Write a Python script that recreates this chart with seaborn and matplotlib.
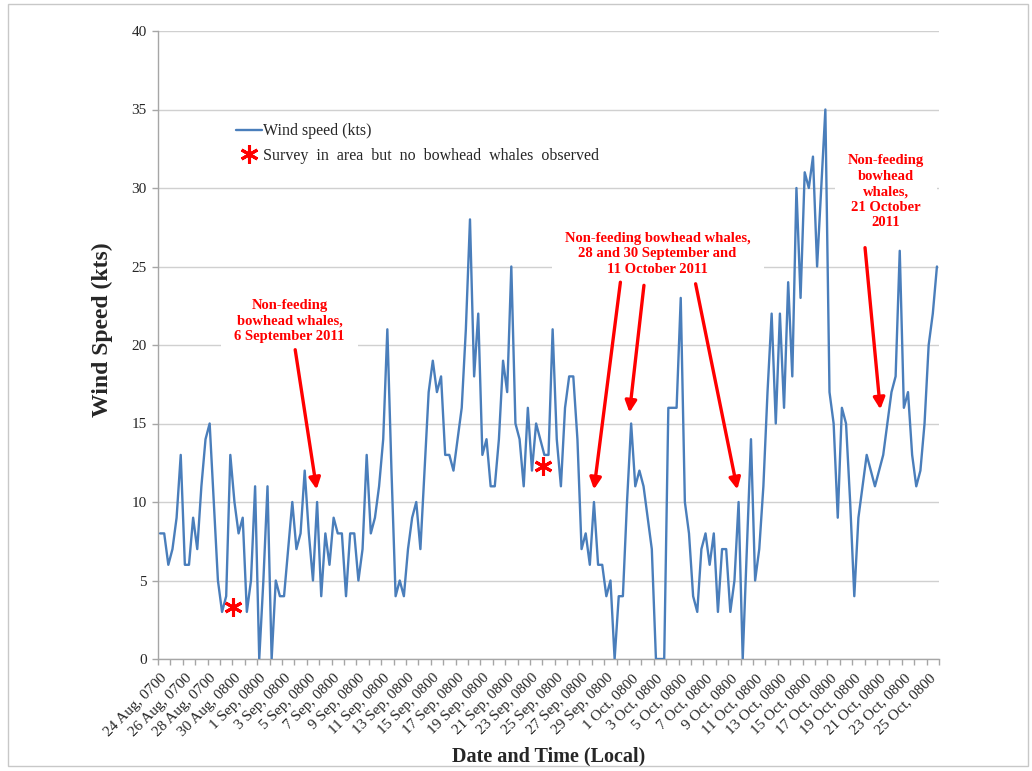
import numpy as np
import pandas as pd
import matplotlib
matplotlib.use("Agg")
import matplotlib.pyplot as plt
import seaborn as sns
from matplotlib.lines import Line2D
from matplotlib.patches import Rectangle

# wind speed (kts), one reading every 8 h from 24 Aug 0700 to 25 Oct 2011
wind_kts = [
    8, 8, 6, 7, 9, 13, 6, 6, 9, 7, 11, 14, 15, 10, 5, 3, 4, 13, 10, 8,
    9, 3, 5, 11, 0, 5, 11, 0, 5, 4, 4,
    7, 10, 7, 8, 12, 8, 5, 10, 4, 8, 6, 9, 8, 8, 4, 8, 8, 5, 7, 13,
    8, 9, 11, 14, 21, 12, 4, 5, 4, 7, 9, 10,
    7, 12, 17, 19, 17, 18, 13, 13, 12, 14, 16, 21, 28, 18, 22, 13, 14, 11,
    11, 14, 19, 17, 25, 15, 14, 11, 16, 12, 15, 14, 13, 13,
    21, 14, 11, 16, 18, 18, 14, 7, 8, 6, 10, 6, 6, 4, 5, 0, 4, 4, 10, 15,
    11, 12, 11, 9, 7, 0, 0, 0, 16, 16, 16,
    23, 10, 8, 4, 3, 7, 8, 6, 8, 3, 7, 7, 3, 5, 10, 0, 7, 14, 5, 7, 11,
    17, 22, 15, 22, 16, 24, 18, 30, 23,
    31, 30, 32, 25, 30, 35, 17, 15, 9, 16, 15, 10, 4, 9, 11, 13, 12, 11,
    12, 13, 15, 17, 18, 26, 16, 17, 13, 11, 12, 15, 20, 22, 25,
]

# one label every 6 readings (2 days)
tick_labels = [
    "24 Aug, 0700", "26 Aug, 0700", "28 Aug, 0700", "30 Aug, 0800",
    "1 Sep, 0800", "3 Sep, 0800", "5 Sep, 0800", "7 Sep, 0800", "9 Sep, 0800",
    "11 Sep, 0800", "13 Sep, 0800", "15 Sep, 0800", "17 Sep, 0800",
    "19 Sep, 0800", "21 Sep, 0800", "23 Sep, 0800", "25 Sep, 0800",
    "27 Sep, 0800", "29 Sep, 0800",
    "1 Oct, 0800", "3 Oct, 0800", "5 Oct, 0800", "7 Oct, 0800", "9 Oct, 0800",
    "11 Oct, 0800", "13 Oct, 0800", "15 Oct, 0800", "17 Oct, 0800",
    "19 Oct, 0800", "21 Oct, 0800", "23 Oct, 0800", "25 Oct, 0800",
]

# surveys with no whales seen (reading index, kts)
survey_obs = [17.6, 92.7]
survey_kts = [3.3, 12.3]

df = pd.DataFrame({"obs": np.arange(len(wind_kts)), "wind": wind_kts})

sns.set_theme(style="white")
plt.rcParams['font.family'] = ['Liberation Serif', 'DejaVu Serif']

fig = plt.figure(figsize=(10.32, 7.71), dpi=100)
ax = fig.add_axes([158 / 1032, 1 - 659 / 771, 781 / 1032, 628 / 771])

sns.lineplot(data=df, x="obs", y="wind", ax=ax, color="#4a7ebb",
             linewidth=1.7, zorder=3)
ax.plot(survey_obs, survey_kts, linestyle="none", marker=(6, 2, 0),
        markersize=13, mew=2.2, color="red", zorder=4)

# axes
ax.set_xlim(-0.5, len(wind_kts) - 0.5)
ax.set_ylim(0, 40)
ax.set_yticks(np.arange(0, 41, 5))
ax.set_xticks(np.arange(0, len(wind_kts), 6))
ax.set_xticklabels(tick_labels, rotation=45, ha="right", va="top",
                   rotation_mode="anchor", fontsize=11)
ax.set_xticks(np.arange(-0.5, len(wind_kts), 3), minor=True)
ax.tick_params(axis="x", which="major", length=0, pad=9)
ax.tick_params(axis="x", which="minor", length=4, width=1, color="#a6a6a6",
               direction="out", bottom=True)
ax.tick_params(axis="y", length=4, width=1, color="#a6a6a6", labelsize=11,
               left=True, pad=4)
ax.yaxis.grid(True, color="#d0d0d0", linewidth=1)
ax.xaxis.grid(False)
for s in ["top", "right"]:
    ax.spines[s].set_visible(False)
for s in ["left", "bottom"]:
    ax.spines[s].set_color("#a6a6a6")
    ax.spines[s].set_linewidth(1)

ax.set_xlabel("Date and Time (Local)", fontsize=14.5, fontweight="bold")
ax.xaxis.set_label_coords(0.5, -0.14)
ax.set_ylabel("Wind Speed (kts)", fontsize=17, fontweight="bold")
ax.yaxis.set_label_coords(-0.058, 0.525)

# legend
handles = [
    Line2D([], [], color="#4a7ebb", linewidth=1.7),
    Line2D([], [], linestyle="none", marker=(6, 2, 0), markersize=13,
           mew=2.2, color="red"),
]
ax.legend(handles, ["Wind speed (kts)",
                    "Survey  in  area  but  no  bowhead  whales  observed"],
          loc="upper left", bbox_to_anchor=(0.09, 0.866), frameon=False,
          fontsize=11.5, handlelength=1.6, handletextpad=0.1,
          labelspacing=0.55, borderpad=0)

# annotations
red = "#ff0000"
box = dict(boxstyle="square,pad=0.9", facecolor="white", edgecolor="none")
txt = dict(color=red, fontsize=10.5, fontweight="bold", ha="center",
           va="center", linespacing=1.25, zorder=5, bbox=box)
arrow = dict(arrowstyle="-|>", color=red, lw=2.4, mutation_scale=17,
             shrinkA=0, shrinkB=0)

ax.text(31.3, 21.5, "Non-feeding\nbowhead whales,\n6 September 2011", **txt)
ax.annotate("", xy=(37.9, 10.8), xytext=(32.7, 19.7), arrowprops=arrow,
            zorder=5)

ax.text(120.4, 25.8, "Non-feeding bowhead whales,\n28 and 30 September and\n"
        "11 October 2011", **txt)
ax.annotate("", xy=(105.0, 10.8), xytext=(111.4, 24.0), arrowprops=arrow,
            zorder=5)
ax.annotate("", xy=(113.6, 15.7), xytext=(117.1, 23.8), arrowprops=arrow,
            zorder=5)
ax.annotate("", xy=(139.7, 10.8), xytext=(129.6, 23.9), arrowprops=arrow,
            zorder=5)

ax.text(175.7, 29.75, "Non-feeding\nbowhead\nwhales,\n21 October\n2011", **txt)
ax.annotate("", xy=(174.3, 15.9), xytext=(170.6, 26.2), arrowprops=arrow,
            zorder=5)

# chart area frame
fig.patches.append(Rectangle((8 / 1032, 5 / 771), 1020 / 1032, 762 / 771,
                             transform=fig.transFigure, fill=False,
                             edgecolor="#c8c8c8", linewidth=1))

fig.savefig("out.png", dpi=100)
